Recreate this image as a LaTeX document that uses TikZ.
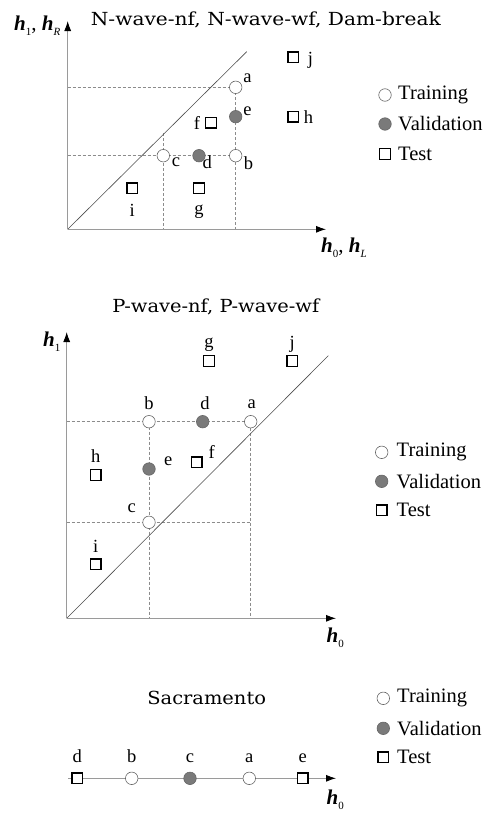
\documentclass[tikz,border=0pt]{standalone}
\usepackage{fontspec}
\setmainfont{Liberation Serif}
\newfontfamily\titlefont{DejaVu Serif}
\usetikzlibrary{arrows.meta,backgrounds}
\definecolor{axisgray}{HTML}{9A9A9A}
\definecolor{dashgray}{HTML}{8C8C8C}
\definecolor{valfill}{HTML}{7A7A7A}
\definecolor{valline}{HTML}{666666}
\newcommand{\hlab}[1]{\textbf{\textit{h}}\raisebox{-5pt}{\fontsize{11}{11}\selectfont #1}}
\newcommand{\ttltext}[2][1.08]{\scalebox{#1}[1]{#2}}
\tikzset{
  train/.style={circle,draw=valline,line width=0.6pt,fill=white,inner sep=0pt,minimum size=12.5pt},
  valid/.style={circle,draw=valline,line width=0.6pt,fill=valfill,inner sep=0pt,minimum size=12.5pt},
  testbox/.style={rectangle,draw=black,line width=1.3pt,fill=white,inner sep=0pt,minimum size=10.5pt},
  lbl/.style={font=\fontsize{18.5}{18.5}\selectfont,inner sep=0pt},
  legtxt/.style={font=\fontsize{20.5}{20.5}\selectfont,anchor=west,inner sep=0pt},
  ttl/.style={font=\titlefont\fontsize{18}{18}\selectfont,inner sep=0pt},
  axlab/.style={font=\fontsize{21}{21}\selectfont,anchor=base west,inner sep=0pt},
  axisline/.style={draw=axisgray,line width=0.9pt,-{Latex[color=black,length=10pt,width=7pt]}},
  diag/.style={draw=black!70,line width=0.6pt},
  dsh/.style={draw=dashgray,line width=0.7pt,dash pattern=on 3pt off 2pt}
}
\begin{document}
\begin{tikzpicture}[x=1pt,y=-1pt]
\useasboundingbox (0,0) rectangle (485,814);
% ================= top panel =================
\node[ttl] (t1) at (265.8,20) {\ttltext[1.12]{N-wave-nf, N-wave-wf, Dam-break}};
\coordinate (O1) at (67.7,229.3);
\coordinate (Y1) at (67.7,21);
\coordinate (X1) at (326,229.3);
\coordinate (D1) at (246.7,51.7);
\coordinate (ya1) at (67.7,87.3);
\coordinate (yb1) at (67.7,155.7);
\coordinate (xb1) at (235.7,229.3);
\coordinate (xc1) at (163.3,229.3);
\coordinate (cc1) at (163.3,133);
\node[train] (Na) at (235.7,87.3) {};
\node[valid] (Ne) at (235.7,116.7) {};
\node[train] (Nb) at (235.7,155.7) {};
\node[valid] (Nd) at (199,155.7) {};
\node[train] (Nc) at (163.3,155.7) {};
\node[testbox] (Nf) at (211,122.7) {};
\node[testbox] (Ni) at (132.3,188.3) {};
\node[testbox] (Ng) at (199,188.3) {};
\node[testbox] (Nj) at (293.3,57.3) {};
\node[testbox] (Nh) at (293.3,116.7) {};
\node[lbl] at (247.5,78) {a};
\node[lbl] at (247.5,111) {e};
\node[lbl] at (248.5,163.5) {b};
\node[lbl] at (207.3,162.5) {d};
\node[lbl] at (176,162.5) {c};
\node[lbl] at (197,122.7) {f};
\node[lbl] at (132.3,210.5) {i};
\node[lbl] at (199,212) {g};
\node[lbl] at (310.5,60) {j};
\node[lbl] at (308.5,116.7) {h};
\node[axlab] (hy1) at (14,30) {\hlab{1}, \hlab{\textit{R}}};
\node[axlab] (hx1) at (321,252) {\hlab{0}, \hlab{\textit{L}}};
\begin{scope}[on background layer]
\draw[dsh] (ya1) -- (Na.center);
\draw[dsh] (Na.center) -- (Nb.center) -- (xb1);
\draw[dsh] (yb1) -- (Nb.center);
\draw[dsh] (cc1) -- (xc1);
\draw[diag] (O1) -- (D1);
\draw[axisline] (O1) -- (Y1);
\draw[axisline] (O1) -- (X1);
\end{scope}
% legend top
\node[train] (L1a) at (385,95) {};
\node[valid] (L1b) at (385,124) {};
\node[testbox] (L1c) at (385,154) {};
\node[legtxt] at (398,95) {Training};
\node[legtxt] at (398,124) {Validation};
\node[legtxt] at (398,154) {Test};
% ================= middle panel =================
\node[ttl] (t2) at (215.8,306.7) {\ttltext{P-wave-nf, P-wave-wf}};
\coordinate (O2) at (66.7,618.3);
\coordinate (Y2) at (66.7,332);
\coordinate (X2) at (336,618.3);
\coordinate (D2) at (328.3,355.7);
\coordinate (ya2) at (66.7,421.7);
\coordinate (yc2) at (66.7,522.3);
\coordinate (xa2) at (250.7,618.3);
\coordinate (xb2) at (149,618.3);
\coordinate (ra2) at (250.7,522.3);
\node[train] (Pb) at (149,421.7) {};
\node[valid] (Pd) at (202.7,421.7) {};
\node[train] (Pa) at (250.7,421.7) {};
\node[valid] (Pe) at (149,469) {};
\node[train] (Pc) at (149,522.3) {};
\node[testbox] (Pf) at (196.7,462.3) {};
\node[testbox] (Ph) at (95.7,475) {};
\node[testbox] (Pi) at (95.7,564.3) {};
\node[testbox] (Pg) at (209,361) {};
\node[testbox] (Pj) at (292.3,361) {};
\node[lbl] at (149,403.3) {b};
\node[lbl] at (205,403.3) {d};
\node[lbl] at (251.7,404.5) {a};
\node[lbl] at (168.3,461) {e};
\node[lbl] at (211.7,451.7) {f};
\node[lbl] at (95.7,455.7) {h};
\node[lbl] at (131.7,508.5) {c};
\node[lbl] at (95.7,546.7) {i};
\node[lbl] at (209,344.5) {g};
\node[lbl] at (292.3,344) {j};
\node[axlab] (hy2) at (43,346.5) {\hlab{1}};
\node[axlab] (hx2) at (326.5,642.5) {\hlab{0}};
\begin{scope}[on background layer]
\draw[dsh] (ya2) -- (Pa.center) -- (xa2);
\draw[dsh] (Pb.center) -- (xb2);
\draw[dsh] (yc2) -- (ra2);
\draw[diag] (O2) -- (D2);
\draw[axisline] (O2) -- (Y2);
\draw[axisline] (O2) -- (X2);
\end{scope}
% legend middle
\node[train] (L2a) at (381.7,452.3) {};
\node[valid] (L2b) at (381.7,481.3) {};
\node[testbox] (L2c) at (381.7,510.3) {};
\node[legtxt] at (396.5,452.3) {Training};
\node[legtxt] at (396.5,481.3) {Validation};
\node[legtxt] at (396.5,510.3) {Test};
% ================= bottom panel =================
\node[ttl] (t3) at (206.7,698.3) {\ttltext{Sacramento}};
\coordinate (O3) at (68.3,778.3);
\coordinate (X3) at (336,778.3);
\node[testbox] (Sd) at (77.3,778.3) {};
\node[train] (Sb) at (131.7,778.3) {};
\node[valid] (Sc) at (190,778.3) {};
\node[train] (Sa) at (249.3,778.3) {};
\node[testbox] (Se) at (302.7,778.3) {};
\node[lbl] at (77.3,756.5) {d};
\node[lbl] at (131.7,756.5) {b};
\node[lbl] at (190,758) {c};
\node[lbl] at (249.3,758) {a};
\node[lbl] at (302.7,758) {e};
\node[axlab] (hx3) at (326.5,804.5) {\hlab{0}};
\begin{scope}[on background layer]
\draw[axisline] (O3) -- (X3);
\end{scope}
% legend bottom
\node[train] (L3a) at (383.3,698.3) {};
\node[valid] (L3b) at (383.3,728.3) {};
\node[testbox] (L3c) at (383.3,757.3) {};
\node[legtxt] at (397,698.3) {Training};
\node[legtxt] at (397,728.3) {Validation};
\node[legtxt] at (397,757.3) {Test};
\end{tikzpicture}
\end{document}
